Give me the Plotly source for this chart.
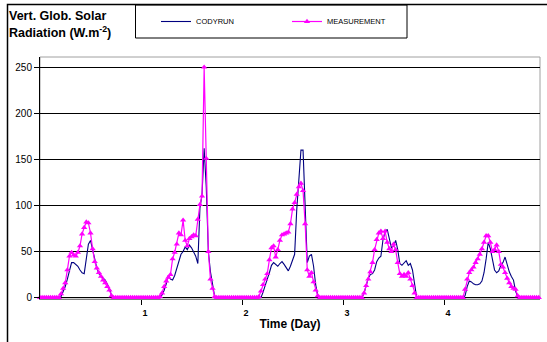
import plotly.graph_objects as go

# Half-hourly values (48 per day), W/m2
codyrun_day0 = [0,0,0,0,0,0,0,0,0,0, 1,6,12,20,30,38,38,36,34,30,27,26,42,58,62,52,43,32,26,23,21,19,15,10,2, 0,0,0,0,0,0,0,0,0,0,0,0,0]
codyrun_day1 = [0,0,0,0,0,0,0,0,0,0, 3,8,15,24,20,19,24,31,40,47,50,55,52,57,54,50,45,37,97,112,162,120,50,28,12,1, 0,0,0,0,0,0,0,0,0,0,0,0]
codyrun_day2 = [0,0,0,0,0,0,0,0,0,0, 6,14,20,27,35,38,36,34,37,39,36,32,29,34,41,47,95,130,160,160,95,38,45,47,34,14,2, 0,0,0,0,0,0,0,0,0,0,0]
codyrun_day3 = [0,0,0,0,0,0,0,0,0,0, 5,14,21,25,26,30,39,43,45,63,71,74,64,54,56,62,52,37,35,38,40,35,37,30,15, 0,0,0,0,0,0,0,0,0,0,0,0,0]
codyrun_day4 = [0,0,0,0,0,0,0,0,0,0, 2,12,18,17,15,14,14,15,18,27,42,60,53,40,30,27,29,35,38,44,35,28,23,19,7,1, 0,0,0,0,0,0,0,0,0,0,0,0]

measure_day0 = [0,0,0,0,0,0,0,0,0,0, 4,10,16,30,45,49,46,45,49,56,69,76,82,81,70,53,39,32,27,23,19,16,12,8,2, 0,0,0,0,0,0,0,0,0,0,0,0,0]
measure_day1 = [0,0,0,0,0,0,0,0,0, 1,5,12,18,22,25,42,49,58,70,68,84,62,56,64,66,68,67,85,101,110,250,151,50,20,10,1, 0,0,0,0,0,0,0,0,0,0,0,0]
measure_day2 = [0,0,0,0,0,0,0,0, 1,7,14,20,26,41,54,56,44,52,62,68,69,70,71,80,96,103,112,120,124,116,80,30,23,27,17,8,2, 0,0,0,0,0,0,0,0,0,0,0]
measure_day3 = [0,0,0,0,0,0,0,0,0,0, 5,13,20,28,38,52,63,70,72,64,72,60,53,50,58,52,38,26,23,25,23,27,20,13,5, 0,0,0,0,0,0,0,0,0,0,0,0,0]
measure_day4 = [0,0,0,0,0,0,0,0,0,0, 9,20,27,30,33,38,42,47,53,60,67,67,60,50,52,57,50,36,33,27,21,16,12,10,9,2, 0,0,0,0,0,0,0,0,0,0,0,0]

codyrun = codyrun_day0 + codyrun_day1 + codyrun_day2 + codyrun_day3 + codyrun_day4
measurement = measure_day0 + measure_day1 + measure_day2 + measure_day3 + measure_day4
time_day = [i / 48 for i in range(len(codyrun))]

x_ticks = [1, 2, 3, 4]
x_ticklabels = ["1", "2", "3", "4"]
y_ticks = [0, 50, 100, 150, 200, 250]

FONT = "Arial, Liberation Sans, sans-serif"

fig = go.Figure()
fig.add_trace(go.Scatter(
    x=time_day, y=codyrun, name="CODYRUN", mode="lines",
    line=dict(color="#000080", width=1.1), cliponaxis=False))
fig.add_trace(go.Scatter(
    x=time_day, y=measurement, name="MEASUREMENT", mode="lines+markers",
    line=dict(color="#FF00FF", width=1.2),
    marker=dict(symbol="triangle-up", size=5.5, color="#FF00FF"), cliponaxis=False))

W, H = 547, 342
L, R, T, B = 40, 7, 57, 43
pw, ph = W - L - R, H - T - B

def px(xp):
    return (xp - L) / pw

def py(yp):
    return (H - B - yp) / ph

fig.update_layout(
    width=W, height=H,
    margin=dict(l=L, r=R, t=T, b=B, autoexpand=False),
    paper_bgcolor="white", plot_bgcolor="white",
    font=dict(family=FONT, color="black"),
    showlegend=True,
    legend=dict(orientation="h", x=px(156), xanchor="left", y=py(21.5), yanchor="middle",
                font=dict(size=7.5, family=FONT), entrywidth=86, entrywidthmode="pixels",
                bgcolor="rgba(0,0,0,0)", borderwidth=0),
    xaxis=dict(range=[0, 4.95], tickvals=x_ticks, ticktext=x_ticklabels, automargin=False,
               ticks="outside", ticklen=5, tickcolor="black", tickwidth=1, ticklabelshift=4,
               showline=True, linecolor="#808080", linewidth=1, showgrid=False, zeroline=False,
               tickfont=dict(size=9, family=FONT, weight="bold"),
               title=dict(text="Time (Day)", font=dict(size=12, family=FONT, weight="bold"), standoff=2)),
    yaxis=dict(range=[-1.5, 261], tickvals=y_ticks, ticks="outside", ticklen=5, automargin=False,
               tickcolor="black", showline=True, linecolor="black", linewidth=1,
               showgrid=True, gridcolor="black", gridwidth=1, zeroline=False,
               tickfont=dict(size=10, family=FONT)),
)

# plot-area frame (gray) and outer chart frame, legend frame
fig.add_shape(type="rect", xref="paper", yref="paper", x0=0, x1=1, y0=0, y1=1,
              line=dict(color="#A0A0A0", width=1), layer="below")
fig.add_shape(type="rect", xref="paper", yref="paper", x0=px(7.5), x1=px(560), y0=py(360), y1=py(4.5),
              line=dict(color="black", width=1.5), layer="above")
fig.add_shape(type="rect", xref="paper", yref="paper", x0=px(135.5), x1=px(407), y0=py(38), y1=py(5),
              line=dict(color="black", width=1), fillcolor="rgba(0,0,0,0)", layer="above")

fig.add_annotation(text="Vert. Glob. Solar", xref="paper", yref="paper", x=px(7), y=py(15.5),
                   xanchor="left", yanchor="middle", showarrow=False,
                   font=dict(size=12.5, family=FONT, weight="bold"))
fig.add_annotation(text="Radiation (W.m<sup>-2</sup>)", xref="paper", yref="paper", x=px(7), y=py(32),
                   xanchor="left", yanchor="middle", showarrow=False,
                   font=dict(size=12.5, family=FONT, weight="bold"))

fig.write_html("out.html", config={"displayModeBar": False},
               post_script="document.body.style.margin='0';document.body.style.overflow='hidden';")
